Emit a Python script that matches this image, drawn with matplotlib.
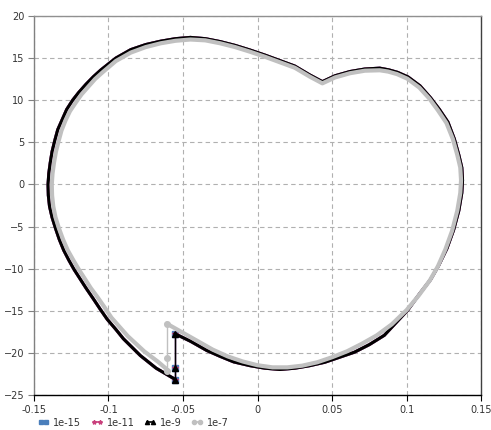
import matplotlib
matplotlib.use("Agg")
import matplotlib.pyplot as plt

# traced loop for the 1e-9 run (1e-15 and 1e-11 lie underneath it)
x_black = [-0.0555, -0.0555, -0.0555, -0.045, -0.034, -0.025, -0.016, -0.005,
           0.005, 0.015, 0.025, 0.035, 0.045, 0.055, 0.065, 0.075, 0.085,
           0.095, 0.1008, 0.109, 0.116, 0.1215, 0.127, 0.1315, 0.135, 0.137,
           0.1375, 0.137, 0.135, 0.132, 0.1277, 0.122, 0.116, 0.109, 0.101,
           0.094, 0.088, 0.082, 0.072, 0.062, 0.052, 0.0435, 0.035, 0.025,
           0.015, 0.005, -0.005, -0.015, -0.025, -0.035, -0.045, -0.055,
           -0.065, -0.075, -0.085, -0.095, -0.105, -0.110, -0.115, -0.120,
           -0.124, -0.128, -0.131, -0.134, -0.136, -0.1378, -0.139, -0.1400,
           -0.1405, -0.1403, -0.1395, -0.1378, -0.1355, -0.1330, -0.1300,
           -0.1265, -0.1230, -0.1190, -0.1150, -0.1100, -0.1055, -0.1008,
           -0.0950, -0.0900, -0.0786, -0.068, -0.0555]
y_black = [-23.2, -21.8, -17.7, -18.6, -19.7, -20.4, -21.05, -21.5,
           -21.8, -21.95, -21.8, -21.5, -21.1, -20.5, -19.9, -19.0, -17.9,
           -16.0, -14.9, -12.9, -11.3, -9.6, -7.6, -5.4, -3.1, -1.0,
           0.5, 2.0, 3.5, 5.4, 7.4, 8.9, 10.3, 11.7, 12.75,
           13.3, 13.6, 13.8, 13.7, 13.4, 12.9, 12.2, 13.0, 14.05,
           14.7, 15.35, 15.95, 16.5, 16.95, 17.3, 17.45, 17.3,
           17.0, 16.6, 16.0, 15.0, 13.6, 12.8, 11.9, 10.9,
           10.0, 8.9, 7.7, 6.5, 5.2, 3.9, 2.6, 1.3,
           0.0, -1.3, -2.6, -3.9, -5.2, -6.5, -7.8,
           -9.0, -10.1, -11.2, -12.3, -13.6, -14.8, -16.0,
           -17.2, -18.3, -20.3, -21.8, -23.1]

# 1e-7 run
x_gray = [-0.061, -0.061, -0.061, -0.050, -0.040, -0.030, -0.020, -0.010,
          0.000, 0.010, 0.020, 0.030, 0.040, 0.050, 0.060, 0.070, 0.080,
          0.090, 0.100, 0.108, 0.1155, 0.121, 0.126, 0.1305, 0.134, 0.136,
          0.1365, 0.136, 0.134, 0.131, 0.1267, 0.121, 0.1152, 0.1085, 0.1005,
          0.0935, 0.0875, 0.082, 0.072, 0.062, 0.052, 0.0435, 0.035, 0.025,
          0.015, 0.005, -0.005, -0.015, -0.025, -0.035, -0.045, -0.055,
          -0.065, -0.075, -0.085, -0.095, -0.104, -0.109, -0.1135, -0.1180,
          -0.1220, -0.1258, -0.1288, -0.1315, -0.1335, -0.1352, -0.1365,
          -0.1375, -0.138, -0.1378, -0.1370, -0.1355, -0.1332, -0.1305,
          -0.1273, -0.1235, -0.1198, -0.1158, -0.1118, -0.1072, -0.1025,
          -0.098, -0.092, -0.087, -0.076, -0.067, -0.061]
y_gray = [-22.1, -20.6, -16.5, -17.6, -18.6, -19.6, -20.4, -21.0,
          -21.45, -21.7, -21.7, -21.5, -21.1, -20.5, -19.8, -18.9, -17.9,
          -16.6, -14.9, -13.2, -11.4, -9.7, -7.7, -5.5, -3.1, -1.0,
          0.5, 2.0, 3.5, 5.4, 7.3, 8.8, 10.2, 11.5, 12.55,
          13.1, 13.4, 13.55, 13.5, 13.2, 12.7, 12.0, 12.8, 13.85,
          14.5, 15.15, 15.75, 16.3, 16.75, 17.1, 17.2, 17.05,
          16.75, 16.3, 15.65, 14.65, 13.3, 12.5, 11.6, 10.7,
          9.7, 8.7, 7.6, 6.4, 5.1, 3.9, 2.6,
          1.3, 0.0, -1.3, -2.6, -3.9, -5.2, -6.5,
          -7.8, -9.0, -10.1, -11.2, -12.3, -13.4, -14.6,
          -15.8, -17.0, -18.0, -19.8, -21.0, -21.9]

labels = ["1e-15", "1e-11", "1e-9", "1e-7"]
colors = ["#4a7ebb", "#c8407c", "#000000", "#c0c0c0"]
markers = ["s", "*", "^", "o"]
xticks = [-0.15, -0.1, -0.05, 0, 0.05, 0.1, 0.15]
xtick_labels = ["-0.15", "-0.1", "-0.05", "0", "0.05", "0.1", "0.15"]
yticks = [-25, -20, -15, -10, -5, 0, 5, 10, 15, 20]

fig = plt.figure(figsize=(4.91, 4.30), dpi=100)
ax = fig.add_axes([0.069, 0.081, 0.911, 0.882])

series = [(x_black, y_black), (x_black, y_black), (x_black, y_black),
          (x_gray, y_gray)]
widths = [2.2, 2.2, 2.2, 3.0]
handles = []
for (xs, ys), lab, col, mk, lw in zip(series, labels, colors, markers, widths):
    # the loop itself, then the thin jump segment with its markers
    ax.plot(xs[2:], ys[2:], color=col, lw=lw, solid_joinstyle="round",
            solid_capstyle="round")
    ax.plot(xs[:3], ys[:3], color=col, lw=1.0, marker=mk, ms=4,
            markeredgecolor=col)
    h, = ax.plot([], [], color=col, lw=1.2, marker=mk, ms=3,
                 markeredgecolor=col, label=lab)
    handles.append(h)

ax.set_xlim(-0.15, 0.15)
ax.set_ylim(-25, 20)
ax.set_xticks(xticks)
ax.set_xticklabels(xtick_labels)
ax.set_yticks(yticks)
ax.grid(True, ls=(0, (4, 3)), color="#b0b0b0", lw=0.8)
ax.set_axisbelow(True)
ax.tick_params(labelsize=7, colors="#333333", length=4, width=0.8, pad=3)
ax.tick_params(axis="y", colors="#808080", labelcolor="#333333")
ax.tick_params(axis="x", colors="#000000", labelcolor="#333333")
ax.spines["left"].set_color("#808080")
ax.spines["bottom"].set_color("#000000")
ax.spines["top"].set_color("#909090")
ax.spines["right"].set_color("#404040")
for s in ax.spines.values():
    s.set_linewidth(1.0)

fig.legend(handles=handles, loc="center left", bbox_to_anchor=(0.065, 0.017),
           ncol=4, frameon=False, fontsize=7, handlelength=1.2,
           handletextpad=0.4, columnspacing=1.0, numpoints=2,
           labelcolor="#333333", borderpad=0.1)

fig.savefig("out.png", dpi=100)
